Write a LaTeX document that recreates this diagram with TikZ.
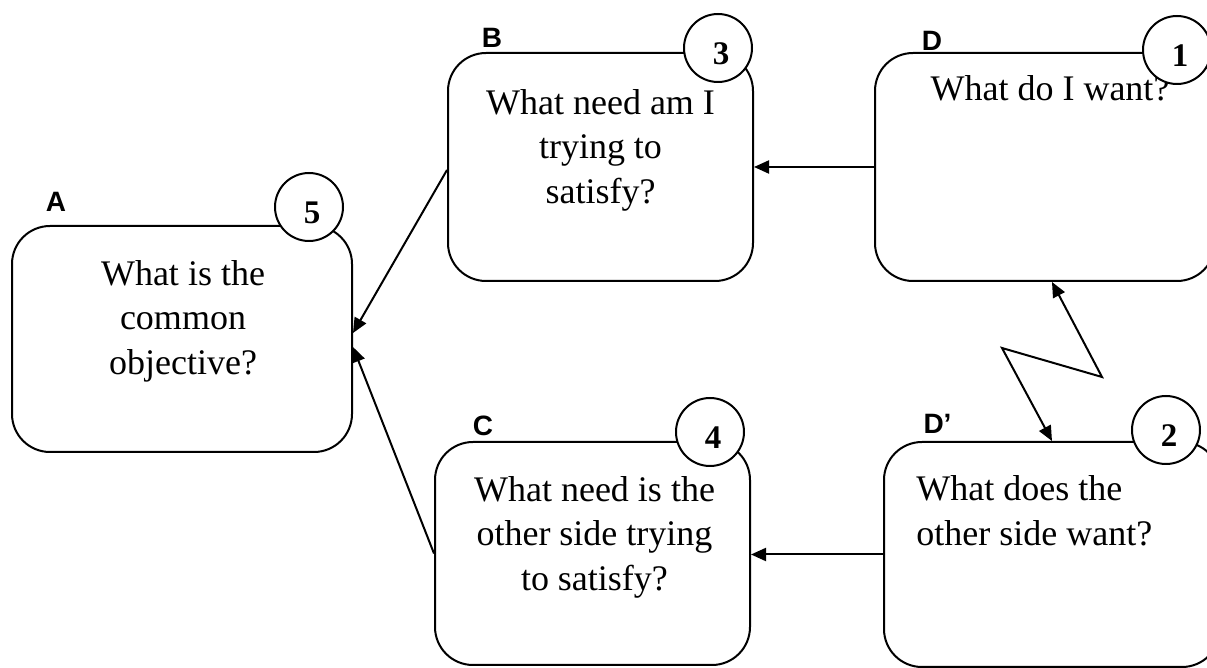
\documentclass[tikz,border=0pt]{standalone}
\usepackage{fontspec}
\setmainfont{Liberation Serif}
\newfontfamily\lblfont{Liberation Sans}
\usetikzlibrary{arrows.meta}
\begin{document}
\begin{tikzpicture}[x=0.5pt,y=-0.5pt,
  box/.style={draw, rounded corners=19pt, line width=1pt, inner sep=0pt},
  num/.style={draw, circle, fill=white, line width=1pt, minimum size=34pt, inner sep=0pt,
    text height=17pt, text depth=0pt, font=\fontsize{16.5}{16.5}\selectfont\bfseries},
  lbl/.style={font=\lblfont\fontsize{14}{14}\selectfont\bfseries, inner sep=0pt},
  qtext/.style={font=\fontsize{18}{22.25}\selectfont, align=center, inner sep=0pt},
  arr/.style={line width=1pt, -{Triangle[length=7.5pt,width=6.5pt]}},
  darr/.style={line width=1pt, {Triangle[length=7.5pt,width=6.5pt]}-{Triangle[length=7.5pt,width=6.5pt]}},
]
\useasboundingbox (0,0) rectangle (1207,668);
\clip (0,0) rectangle (1207,668);

% boxes
\node[box, minimum width=170pt, minimum height=113pt] (A) at (182,339) {};
\node[box, minimum width=152.5pt, minimum height=114pt] (B) at (600.5,167) {};
\node[box, minimum width=157.5pt, minimum height=111.5pt] (C) at (592.5,553.5) {};
\node[box, minimum width=170pt, minimum height=114pt] (D) at (1045,167) {};
\node[box, minimum width=168pt, minimum height=112.5pt] (Dp) at (1052,554.5) {};

% texts
\node[qtext] (tA) at (183,321) {What is the\\common\\objective?};
\node[qtext] (tB) at (600.5,150) {What need am I\\trying to\\satisfy?};
\node[qtext] (tC) at (594.5,537) {What need is the\\other side trying\\to satisfy?};
\node[qtext] (tD) at (1050,88) {What do I want?};
\node[qtext, align=left, anchor=west] (tDp) at (916,511) {What does the\\other side want?};

% numbered circles
\node[num] (n5) at (309,207) {\hspace*{3pt}5};
\node[num] (n3) at (718,48) {\hspace*{3pt}3};
\node[num] (n4) at (710,432) {\hspace*{3pt}4};
\node[num] (n1) at (1177,50) {\hspace*{3pt}1};
\node[num] (n2) at (1166,430) {\hspace*{3pt}2};

% letter labels
\node[lbl] (lA) at (56,202) {A};
\node[lbl] (lB) at (492,37.5) {B};
\node[lbl] (lC) at (483,426) {C};
\node[lbl] (lD) at (932,41) {D};
\node[lbl] (lDp) at (937.5,424) {D’};

% connectors
\draw[arr] (D.west) -- (B.east);
\draw[arr] (Dp.west) -- (C.east |- Dp.west);
\draw[arr] ([yshift=-1.5pt]B.west) -- ([yshift=3pt]A.east);
\draw[arr] (C.west) -- ([yshift=-4pt]A.east);
\coordinate (z1) at (1102,377);
\coordinate (z2) at (1002,348);
\draw[darr] ([xshift=3.5pt]D.south) -- (z1) -- (z2) -- (Dp.north);
\end{tikzpicture}
\end{document}
